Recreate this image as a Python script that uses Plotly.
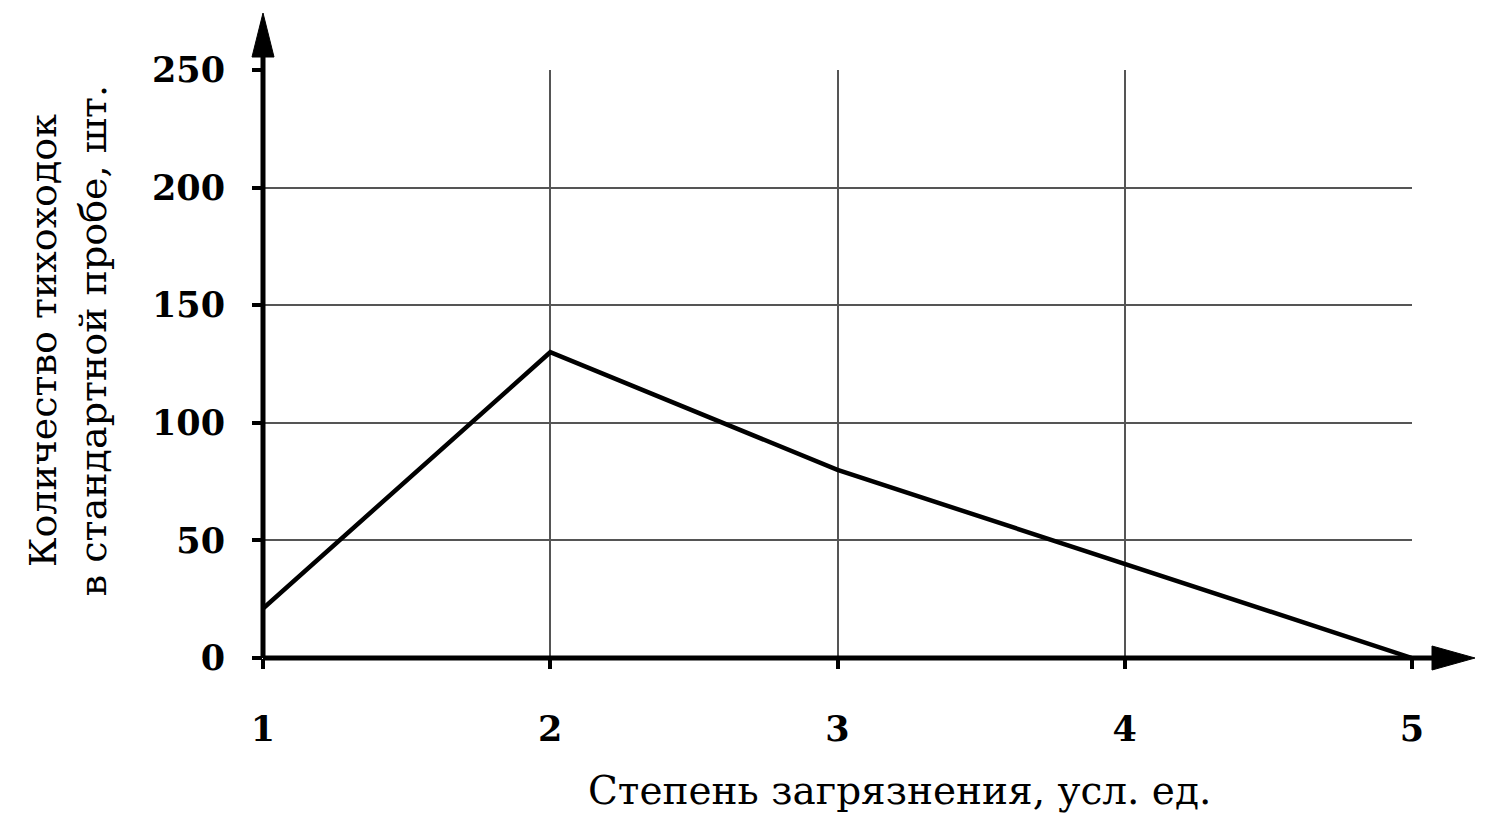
import plotly.graph_objects as go

# Data
pollution = [1, 2, 3, 4, 5]
tardigrades = [21, 130, 80, 40, 0]
x_ticks = [1, 2, 3, 4, 5]
y_ticks = [0, 50, 100, 150, 200, 250]

x_title = "Степень загрязнения, усл. ед."
y_title = "Количество тихоходок<br>в стандартной пробе, шт."

FONT = "DejaVu Serif"

fig = go.Figure()
fig.add_trace(go.Scatter(
    x=pollution, y=tardigrades, mode="lines",
    line=dict(color="black", width=4.5),
    showlegend=False, hoverinfo="skip",
))

fig.update_xaxes(
    range=[1, 5], tickvals=x_ticks, ticktext=[str(v) for v in x_ticks],
    showgrid=True, gridcolor="#555555", gridwidth=2,
    zeroline=False, showline=False,
    ticks="outside", ticklen=10, tickwidth=4, tickcolor="black",
    ticklabelstandoff=30,
    tickfont=dict(family=FONT, size=35, color="black", weight="bold"),
)
fig.update_yaxes(
    range=[0, 250], tickvals=y_ticks, ticktext=[str(v) for v in y_ticks],
    showgrid=True, gridcolor="#555555", gridwidth=2,
    zeroline=False, showline=False,
    ticks="outside", ticklen=10, tickwidth=4, tickcolor="black",
    ticklabelstandoff=20,
    tickfont=dict(family=FONT, size=35, color="black", weight="bold"),
)

shapes = []
# y axis line with arrow
shapes.append(dict(type="line", xref="paper", yref="paper", x0=0, x1=0, y0=0, y1=1.08,
                   line=dict(color="black", width=5)))
shapes.append(dict(type="path", xref="paper", yref="paper", xsizemode="pixel", ysizemode="pixel",
                   xanchor=0, yanchor=1,
                   path="M -11,13 L 11,13 L 0,57 Z",
                   fillcolor="black", line=dict(color="black", width=1)))
# x axis line with arrow
shapes.append(dict(type="line", xref="paper", yref="paper", x0=0, x1=1.045, y0=0, y1=0,
                   line=dict(color="black", width=5)))
shapes.append(dict(type="path", xref="paper", yref="paper", xsizemode="pixel", ysizemode="pixel",
                   xanchor=1, yanchor=0,
                   path="M 20,-12 L 20,12 L 63,0 Z",
                   fillcolor="black", line=dict(color="black", width=1)))

annotations = [
    dict(text=x_title, xref="paper", yref="paper", x=0.554, y=-0.225,
         xanchor="center", yanchor="middle", showarrow=False,
         font=dict(family=FONT, size=39, color="black")),
    dict(text=y_title, xref="paper", yref="paper", x=-0.17, y=0.54,
         xanchor="center", yanchor="middle", showarrow=False, textangle=-90,
         font=dict(family=FONT, size=38, color="black")),
]

fig.update_layout(
    width=1500, height=832,
    margin=dict(l=255, r=96, t=62, b=182),
    plot_bgcolor="white", paper_bgcolor="white",
    shapes=shapes, annotations=annotations,
    showlegend=False,
)

fig.write_html("out.html")
